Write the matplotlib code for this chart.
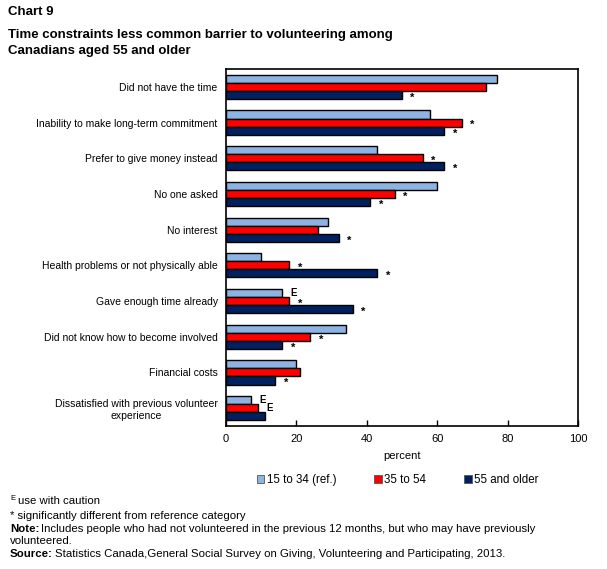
import matplotlib.pyplot as plt
from matplotlib.patches import Patch

plt.rcParams["font.family"] = ["Liberation Sans", "DejaVu Sans"]

# categories top to bottom
categories = [
    "Did not have the time",
    "Inability to make long-term commitment",
    "Prefer to give money instead",
    "No one asked",
    "No interest",
    "Health problems or not physically able",
    "Gave enough time already",
    "Did not know how to become involved",
    "Financial costs",
    "Dissatisfied with previous volunteer\nexperience",
]
series_names = ["15 to 34 (ref.)", "35 to 54", "55 and older"]
young = [77, 58, 43, 60, 29, 10, 16, 34, 20, 7]
middle = [74, 67, 56, 48, 26, 18, 18, 24, 21, 9]
older = [50, 62, 62, 41, 32, 43, 36, 16, 14, 11]
# flags per bar: "*" significant, "E" use with caution, "" none
young_flags = ["", "", "", "", "", "", "E", "", "", "E"]
middle_flags = ["", "*", "*", "*", "", "*", "*", "*", "", "E"]
older_flags = ["*", "*", "*", "*", "*", "*", "*", "*", "*", ""]

colors = ["#8DB3E2", "#FF0000", "#002060"]

fig = plt.figure(figsize=(6.07, 5.69), dpi=100)
ax = fig.add_axes([226 / 607, 1 - 426 / 569, 352 / 607, 357 / 569])

h = 0.226
all_vals = [young, middle, older]
all_flags = [young_flags, middle_flags, older_flags]
for j, (vals, flags) in enumerate(zip(all_vals, all_flags)):
    ys = [i + (j - 1) * h for i in range(len(categories))]
    ax.barh(ys, vals, height=h, color=colors[j], edgecolor="black",
            linewidth=1.0, label=series_names[j])
    for y, v, f in zip(ys, vals, flags):
        if f:
            ax.annotate(f, (v, y), xytext=(6, 0 if f == "E" else -2),
                        textcoords="offset points", ha="left", va="center",
                        fontsize=7 if f == "E" else 8, fontweight="bold")

ax.set_ylim(len(categories) - 0.5, -0.5)
ax.set_xlim(0, 100)
ax.set_xticks([0, 20, 40, 60, 80, 100])
ax.set_yticks(range(len(categories)))
ax.set_yticklabels(categories, fontsize=7.5, multialignment="center")
ax.tick_params(axis="y", length=0, pad=6)
ax.tick_params(axis="x", direction="in", length=4, width=1, labelsize=8, pad=6)
for s in ax.spines.values():
    s.set_linewidth(1.2)
ax.set_xlabel("percent", fontsize=8, labelpad=5)

handles = [Patch(facecolor=c, edgecolor="#555555", linewidth=0.6) for c in colors]
fig.legend(handles, series_names, loc="center left", bbox_to_anchor=(257 / 607, 1 - 480 / 569),
           ncol=3, frameon=False, fontsize=8.3, handlelength=0.65, handleheight=0.65,
           handletextpad=0.2, columnspacing=3.3, borderpad=0, borderaxespad=0)

fig.text(8 / 607, 1 - 12 / 569, "Chart 9", fontsize=9.5, fontweight="bold", va="center")
fig.text(8 / 607, 1 - 35 / 569, "Time constraints less common barrier to volunteering among",
         fontsize=9.5, fontweight="bold", va="center")
fig.text(8 / 607, 1 - 51 / 569, "Canadians aged 55 and older",
         fontsize=9.5, fontweight="bold", va="center")

fs = 8.2
fig.text(10 / 607, 1 - 498 / 569, "E", fontsize=5.5, va="center")
fig.text(18 / 607, 1 - 501 / 569, "use with caution", fontsize=fs, va="center")
fig.text(10 / 607, 1 - 516 / 569, "* significantly different from reference category",
         fontsize=fs, va="center")
fig.text(10 / 607, 1 - 529 / 569, "Note:", fontsize=fs, fontweight="bold", va="center")
fig.text(41 / 607, 1 - 529 / 569,
         "Includes people who had not volunteered in the previous 12 months, but who may have previously",
         fontsize=fs, va="center")
fig.text(10 / 607, 1 - 541 / 569, "volunteered.", fontsize=fs, va="center")
fig.text(10 / 607, 1 - 554 / 569, "Source:", fontsize=fs, fontweight="bold", va="center")
fig.text(55 / 607, 1 - 554 / 569,
         "Statistics Canada,General Social Survey on Giving, Volunteering and Participating, 2013.",
         fontsize=fs, va="center")

fig.savefig("out.png", dpi=100)
